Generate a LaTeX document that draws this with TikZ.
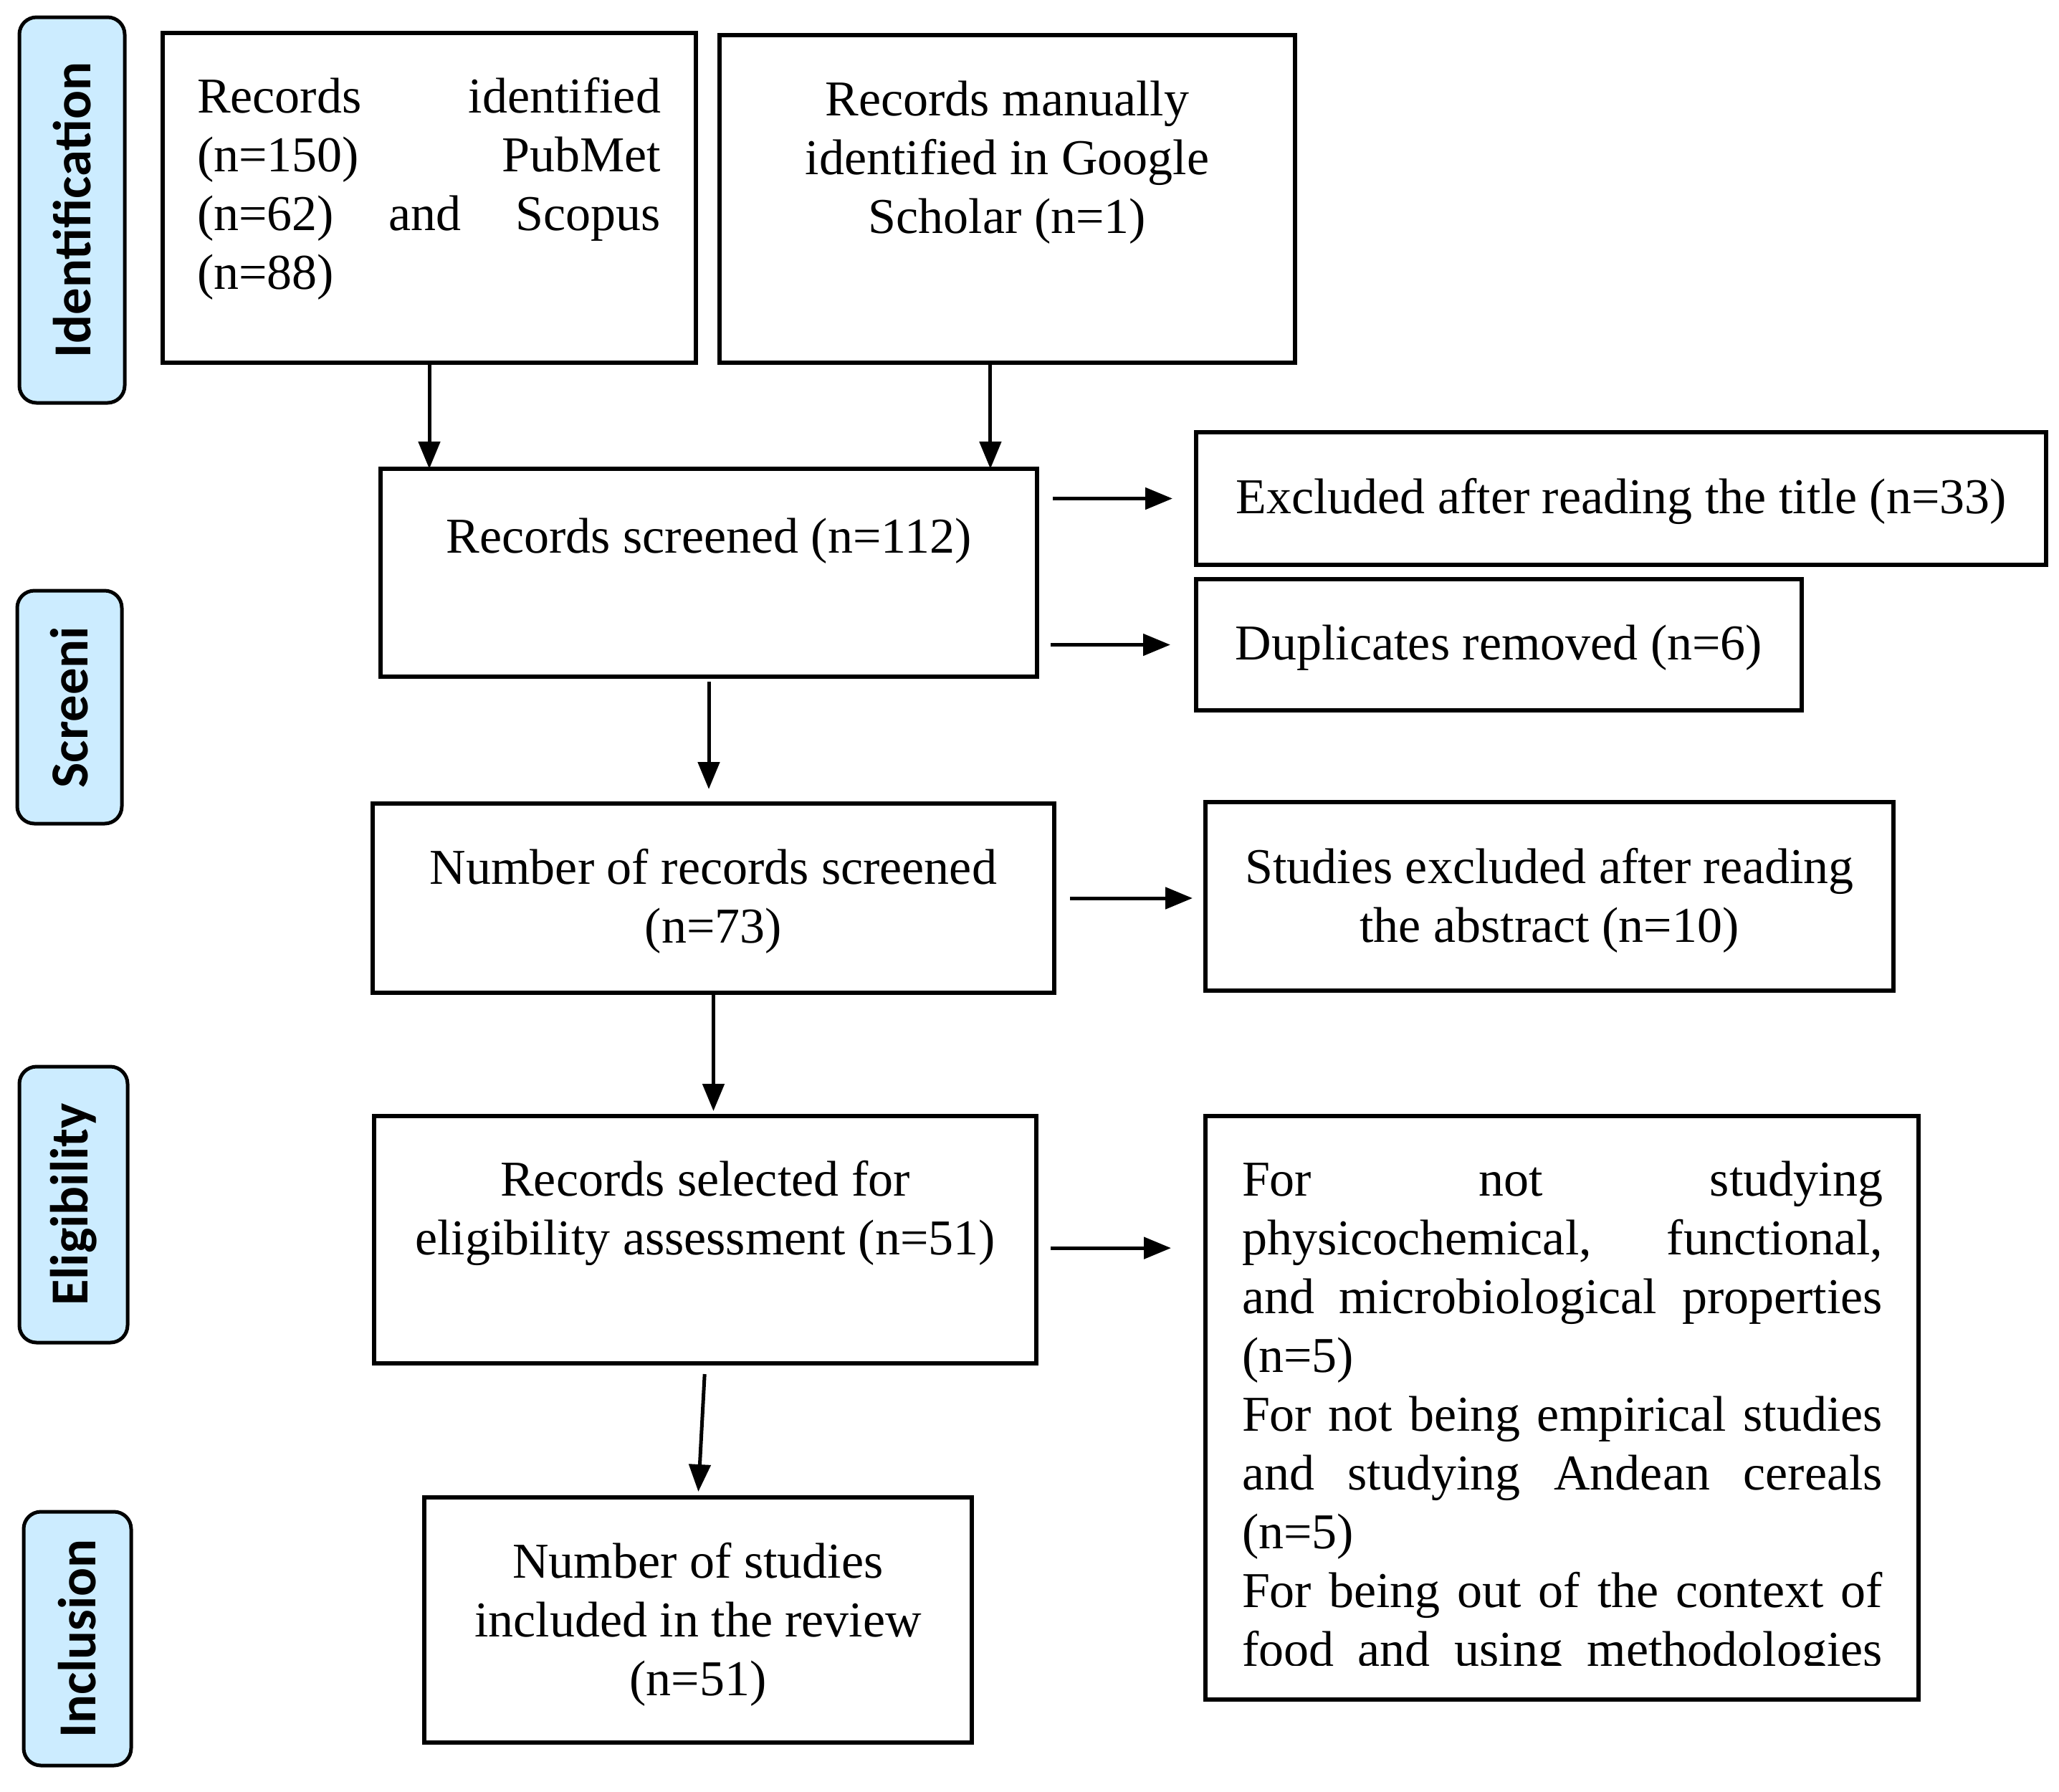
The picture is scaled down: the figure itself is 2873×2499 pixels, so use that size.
\documentclass[tikz,border=0pt]{standalone}
\usepackage{fontspec}
\setmainfont{Liberation Serif}
\newfontfamily\labelfont{Carlito}
\usetikzlibrary{arrows.meta}
\newcommand\jline[2]{\makebox[#1][s]{#2}}
\newcommand\mainfnt{\fontsize{17.5pt}{20.5pt}\selectfont}
\definecolor{labblue}{RGB}{204,236,255}
\begin{document}
\begin{tikzpicture}[x=0.25pt,y=-0.25pt,
  box/.style={draw,line width=1.35pt,inner sep=0pt,outer sep=0pt,align=center,font=\mainfnt},
  txt/.style={inner sep=0pt,outer sep=0pt,font=\mainfnt},
  lab/.style={draw,line width=1.25pt,rounded corners=6pt,fill=labblue,inner sep=0pt,outer sep=0pt,rotate=90,
    font=\labelfont\bfseries\fontsize{18.65pt}{20pt}\selectfont},
  arr/.style={line width=1.25pt,-{Triangle[length=9.5pt,width=7.5pt]}}]
\useasboundingbox (0,0) rectangle (2873,2499);

% side labels
\node[lab,minimum width=538*0.25pt,minimum height=147*0.25pt] (L1) at (100.5,293) {Identification};
\node[lab,minimum width=325*0.25pt,minimum height=146*0.25pt] (L2) at (97,986.5) {Screeni};
\node[lab,minimum width=385*0.25pt,minimum height=151*0.25pt] (L3) at (102.5,1680.5) {Eligibility};
\node[lab,minimum width=354*0.25pt,minimum height=150*0.25pt] (L4) at (108,2286) {Inclusion};

% boxes
\node[box,minimum width=744*0.25pt,minimum height=460*0.25pt] (A) at (599,276) {};
\node[box,minimum width=803*0.25pt,minimum height=457*0.25pt] (B) at (1405.5,277.5) {};
\node[box,minimum width=916*0.25pt,minimum height=290*0.25pt] (C) at (989,799) {};
\node[box,minimum width=1186*0.25pt,minimum height=185*0.25pt] (D) at (2262,695.5) {};
\node[box,minimum width=845*0.25pt,minimum height=183*0.25pt] (E) at (2091.5,899.5) {};
\node[box,minimum width=951*0.25pt,minimum height=264*0.25pt] (F) at (995.5,1253) {};
\node[box,minimum width=960*0.25pt,minimum height=263*0.25pt] (G) at (2162,1250.5) {};
\node[box,minimum width=924*0.25pt,minimum height=345*0.25pt] (H) at (984,1729.5) {};
\node[box,minimum width=995*0.25pt,minimum height=814*0.25pt] (I) at (2179.5,1964) {};
\node[box,minimum width=764*0.25pt,minimum height=342*0.25pt] (J) at (974,2260) {};

% centred texts (slightly lowered, as in the reference)
\node[txt,align=center] (tD) at ([yshift=-1pt]D.center) {Excluded after reading the title (n=33)};
\node[txt,align=center] (tE) at ([yshift=-1pt]E.center) {Duplicates removed (n=6)};
\node[txt,align=center] (tF) at ([yshift=-1pt]F.center) {Number of records screened\\(n=73)};
\node[txt,align=center] (tG) at ([yshift=-1.5pt]G.center) {Studies excluded after reading\\the abstract (n=10)};
\node[txt,align=center] (tJ) at ([yshift=-1.5pt]J.center) {Number of studies\\included in the review\\(n=51)};

% top-aligned texts
\node[txt,anchor=north west,align=left] (tA) at ([xshift=12pt,yshift=-13.4pt]A.north west)
  {\strut\jline{161.75pt}{Records identified}\\\jline{161.75pt}{(n=150) PubMet}\\\jline{161.75pt}{(n=62) and Scopus}\\(n=88)};
\node[txt,anchor=north,align=center] (tB) at ([yshift=-13.65pt]B.north)
  {\strut Records manually\\identified in Google\\Scholar (n=1)};
\node[txt,anchor=north,align=center] (tC) at ([yshift=-14.9pt]C.north)
  {\strut Records screened (n=112)};
\node[txt,anchor=north,align=center] (tH) at ([yshift=-13.4pt]H.north)
  {\strut Records selected for\\eligibility assessment (n=51)};
\begin{scope}
\clip (I.north west) rectangle ([yshift=11.8pt]I.south east);
\node[txt,anchor=north west,align=left] (tI) at ([xshift=12.75pt,yshift=-13.4pt]I.north west)
  {\strut\jline{223.5pt}{For not studying}\\
   \jline{223.5pt}{physicochemical, functional,}\\
   \jline{223.5pt}{and microbiological properties}\\
   (n=5)\\
   \jline{223.5pt}{For not being empirical studies}\\
   \jline{223.5pt}{and studying Andean cereals}\\
   (n=5)\\
   \jline{223.5pt}{For being out of the context of}\\
   \jline{223.5pt}{food and using methodologies}};
\end{scope}

% connectors
\coordinate (bs) at ([xshift=-5.9pt]B.south);
\coordinate (hs) at ([yshift=-2.9pt]H.east);
\draw[arr] (A.south) -- (A.south |- C.north);
\draw[arr] (bs) -- (bs |- C.north);
\draw[arr,shorten <=5.5pt,shorten >=8.25pt] (C.east |- D.west) -- (D.west);
\draw[arr,shorten <=4.75pt,shorten >=9pt] (C.east |- E.west) -- (E.west);
\draw[arr,shorten <=1.75pt,shorten >=5pt] (C.south) -- (C.south |- F.north);
\draw[arr,shorten <=5.5pt,shorten >=4.5pt] (F.east) -- (F.east -| G.west);
\draw[arr,shorten >=1.75pt] (F.south) -- (F.south |- H.north);
\draw[arr,shorten <=5pt,shorten >=12pt] (hs) -- (hs -| I.west);
\draw[arr,shorten <=3.75pt,shorten >=2pt] (H.south) -- (J.north);
\end{tikzpicture}
\end{document}
